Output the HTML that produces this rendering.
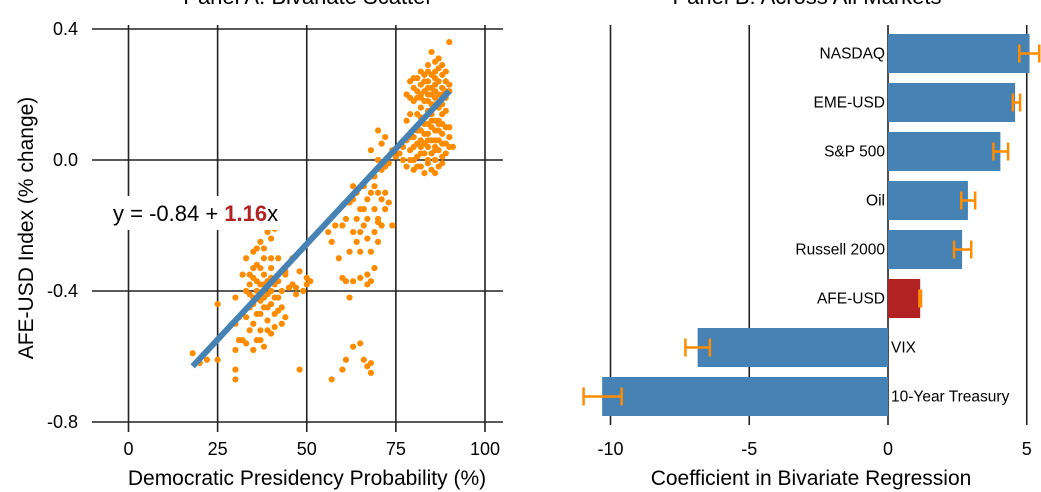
<!DOCTYPE html>
<html><head><meta charset="utf-8"><style>
html,body{margin:0;padding:0;background:#fff;}
svg{display:block;font-family:"Liberation Sans",sans-serif;}
</style></head><body>
<svg id="fig" width="1041" height="492" viewBox="0 0 1041 492">
<g id="pa"></g>
<g id="pb"></g>
</svg>
<script>
// Panel A data
const probX=[80,81,82,83,84,85,86,87,88,89,82,84,86,88,83,85,87,89,81,80,86,85,87,90,84,79,78,86,88,83,82,85,87,89,84,81,90,79,78,80,
81,82,83,84,85,86,87,88,89,90,80,82,84,86,88,83,85,87,89,81,79,86,84,82,88,
79,80,81,82,83,84,85,86,87,88,89,90,91,84,85,86,87,83,82,81,88,89,86,84,76,77,75,78,80,79,83,85,87,86,82,88,90,
80,81,82,83,84,85,86,87,88,89,90,84,86,83,85,87,81,79,77,78,88,82,84,86,
68,70,72,71,69,73,74,70,72,66,67,68,69,70,71,72,73,74,65,64,63,62,61,60,63,64,65,66,67,68,69,70,62,60,61,63,65,67,68,69,59,57,56,58,62,67,
68,69,70,71,72,66,64,63,67,70,71,65,
33,35,37,39,41,36,38,40,42,34,36,38,40,42,44,46,48,50,51,49,47,45,43,41,39,37,35,33,34,36,38,40,42,44,35,37,39,41,43,31,30,32,34,36,38,40,30,31,33,35,25,30,32,38,40,44,46,50,47,
34,35,36,37,38,39,40,41,35,37,39,36,34,38,40,36,37,42,43,35,39,33,37,41,
18,20,22,25,30,30,48,57,60,61,63,65,66,67,68,68];
const afeY=[0.22,0.25,0.2,0.24,0.27,0.22,0.25,0.28,0.22,0.24,0.16,0.18,0.19,0.17,0.13,0.14,0.12,0.15,0.1,0.18,0.3,0.33,0.31,0.36,0.29,0.24,0.2,0.23,0.26,0.21,0.23,0.2,0.2,0.19,0.22,0.19,0.21,0.14,0.12,0.07,
0.21,0.27,0.18,0.15,0.26,0.17,0.24,0.2,0.27,0.23,0.25,0.13,0.24,0.21,0.14,0.26,0.17,0.16,0.21,0.14,0.19,0.27,0.2,0.19,0.29,
0.03,0.0,0.05,0.02,0.08,0.04,0.1,0.06,0.03,0.08,0.05,0.04,0.04,-0.01,-0.03,0.0,-0.02,-0.04,0.06,0.09,0.01,0.1,0.12,0.11,0.02,0.0,0.01,-0.02,-0.03,0.07,0.02,0.06,0.09,0.03,-0.02,0.05,0.07,
0.04,0.01,0.09,0.05,0.08,0.02,0.09,0.06,-0.01,0.02,0.1,0.0,-0.04,0.11,0.12,0.11,-0.02,0.0,0.04,0.06,0.11,0.04,0.06,0.04,
0.03,0.0,-0.02,0.05,-0.05,-0.01,0.03,0.09,0.07,-0.08,-0.12,-0.1,-0.15,-0.18,-0.2,-0.1,-0.13,-0.2,-0.15,-0.1,-0.08,-0.13,-0.18,-0.2,-0.22,-0.25,-0.28,-0.2,-0.24,-0.28,-0.22,-0.19,-0.28,-0.36,-0.37,-0.37,-0.36,-0.35,-0.37,-0.33,-0.3,-0.25,-0.22,-0.2,-0.42,-0.38,
-0.05,-0.08,-0.1,-0.03,-0.15,-0.15,-0.18,-0.12,-0.18,-0.25,-0.12,-0.22,
-0.3,-0.28,-0.25,-0.22,-0.21,-0.32,-0.3,-0.33,-0.3,-0.35,-0.37,-0.38,-0.36,-0.37,-0.35,-0.3,-0.34,-0.38,-0.37,-0.4,-0.39,-0.39,-0.4,-0.42,-0.41,-0.43,-0.42,-0.4,-0.45,-0.47,-0.45,-0.44,-0.46,-0.48,-0.5,-0.52,-0.49,-0.51,-0.5,-0.48,-0.5,-0.55,-0.52,-0.55,-0.57,-0.53,-0.58,-0.55,-0.56,-0.58,-0.44,-0.42,-0.35,-0.27,-0.24,-0.34,-0.38,-0.36,-0.41,
-0.38,-0.36,-0.4,-0.38,-0.42,-0.37,-0.4,-0.38,-0.44,-0.47,-0.45,-0.42,-0.41,-0.35,-0.3,-0.27,-0.33,-0.42,-0.45,-0.33,-0.52,-0.48,-0.55,-0.47,
-0.59,-0.62,-0.61,-0.61,-0.64,-0.67,-0.64,-0.67,-0.64,-0.61,-0.57,-0.56,-0.61,-0.63,-0.62,-0.65];
const xTicksA=[0,25,50,75,100];
const yTicksA=[0.4,0.0,-0.4,-0.8];
const yTickLabelsA=["0.4","0.0","-0.4","-0.8"];
const fitIntercept=-0.84, fitSlope=1.16;
const fitStart=[18,-0.63], fitEnd=[90,0.21];
// Panel B data
const markets=["NASDAQ","EME-USD","S&P 500","Oil","Russell 2000","AFE-USD","VIX","10-Year Treasury"];
const coefs=[5.1,4.58,4.05,2.88,2.67,1.16,-6.86,-10.3];
const errLo=[4.73,4.5,3.8,2.64,2.38,1.13,-7.3,-10.97];
const errHi=[5.45,4.76,4.33,3.14,3.0,1.19,-6.42,-9.6];
const xTicksB=[-10,-5,0,5];

const NS="http://www.w3.org/2000/svg";
function mk(parent,tag,attrs,text){const e=document.createElementNS(NS,tag);for(const k in attrs)e.setAttribute(k,attrs[k]);if(text!==undefined)e.textContent=text;parent.appendChild(e);return e;}
const pa=document.getElementById('pa'), pb=document.getElementById('pb');
const xA=v=>128.5+v*3.565, yA=v=>160-v*327.5;

let t=mk(pa,'text',{x:308,y:4,'text-anchor':'middle','font-size':22},"Panel A: Bivariate Scatter");


yTicksA.forEach((v,i)=>{
 const l=mk(pa,'line',{x1:92,x2:503,y1:yA(v),y2:yA(v),stroke:'#222','stroke-width':1.6});
 
 
 const tx=mk(pa,'text',{x:78,y:yA(v)+6,'text-anchor':'end','font-size':18},yTickLabelsA[i]);
 
 
});
xTicksA.forEach(v=>{
 const l=mk(pa,'line',{x1:xA(v),x2:xA(v),y1:25,y2:432,stroke:'#222','stroke-width':1.6});
 
 
 const tx=mk(pa,'text',{x:xA(v),y:455,'text-anchor':'middle','font-size':18},String(v));
 
 
});
probX.forEach((x,i)=>{
 const c=mk(pa,'circle',{cx:xA(x),cy:yA(afeY[i]),r:3.1,fill:'#ff8c00'});
 
 
});
const fl=mk(pa,'line',{x1:xA(fitStart[0]),y1:yA(fitStart[1]),x2:xA(fitEnd[0]),y2:yA(fitEnd[1]),stroke:'#4682b4','stroke-width':6});


const bg=mk(pa,'rect',{x:110,y:196,width:196,height:34,fill:'#fff'});


const eq=mk(pa,'text',{x:113,y:221,'font-size':22});


mk(eq,'tspan',{},'y = '+fitIntercept.toFixed(2)+' + ');
mk(eq,'tspan',{fill:'#b22222','font-weight':'bold'},fitSlope.toFixed(2));
mk(eq,'tspan',{},'x');
const xt=mk(pa,'text',{x:307,y:485,'text-anchor':'middle','font-size':21},'Democratic Presidency Probability (%)');


const yt=mk(pa,'text',{x:0,y:0,'text-anchor':'middle','font-size':21,transform:'translate(33,228) rotate(-90)'},'AFE-USD Index (% change)');



// Panel B
const xB=v=>888+v*27.75;
t=mk(pb,'text',{x:807,y:4,'text-anchor':'middle','font-size':22},'Panel B: Across All Markets');


xTicksB.forEach(v=>{
 const l=mk(pb,'line',{x1:xB(v),x2:xB(v),y1:25,y2:425,stroke:'#222','stroke-width':1.6});
 
 
 const tx=mk(pb,'text',{x:xB(v),y:455,'text-anchor':'middle','font-size':18},String(v));
 
 
});
markets.forEach((m,i)=>{
 const top=34+i*49, h=39, v=coefs[i];
 const r=mk(pb,'rect',{x:Math.min(xB(0),xB(v)),y:top,width:Math.abs(xB(v)-xB(0)),height:h,fill:m==='AFE-USD'?'#b22222':'#4682b4'});
 
 
 const cy=top+h/2, a=xB(errLo[i]), b=xB(errHi[i]);
 const eg=mk(pb,'g',{stroke:'#ff8c00','stroke-width':2.5,fill:'none'});
 
 
 mk(eg,'line',{x1:a,x2:b,y1:cy,y2:cy});
 mk(eg,'line',{x1:a,x2:a,y1:cy-9,y2:cy+9});
 mk(eg,'line',{x1:b,x2:b,y1:cy-9,y2:cy+9});
 const lb=mk(pb,'text',{x:v>=0?xB(0)-3:xB(0)+3,y:cy+5,'text-anchor':v>=0?'end':'start','font-size':15.5},m);
 
 
});
const bx=mk(pb,'text',{x:811,y:485,'text-anchor':'middle','font-size':21},'Coefficient in Bivariate Regression');


</script>
</body></html>
